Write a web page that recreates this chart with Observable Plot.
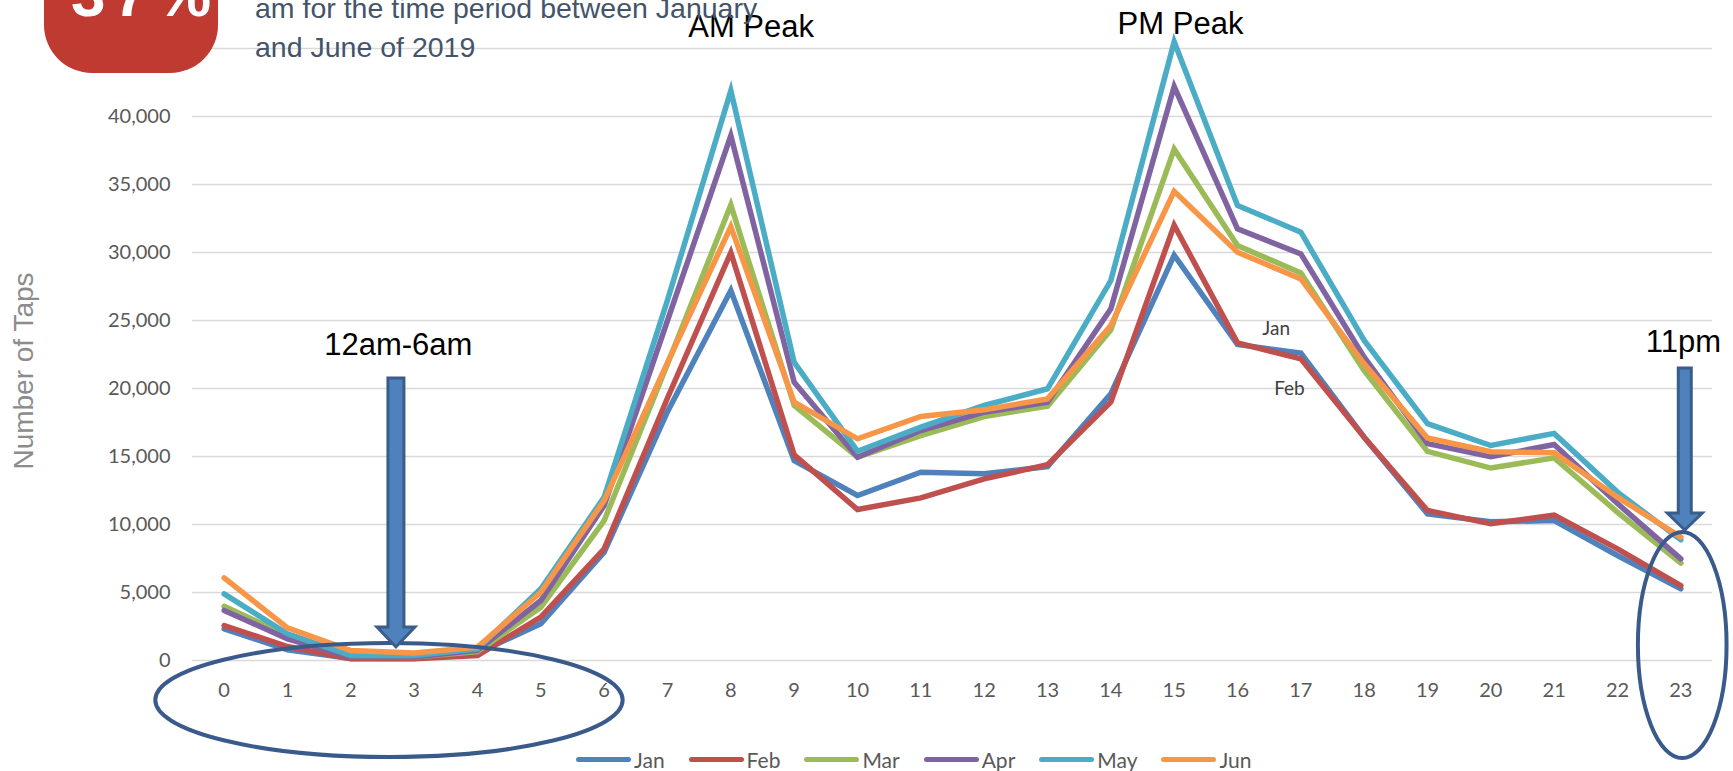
<!DOCTYPE html>
<html>
<head>
<meta charset="utf-8">
<script src="https://cdn.jsdelivr.net/npm/d3@7"></script>
<script src="https://cdn.jsdelivr.net/npm/@observablehq/plot@0.6"></script>
<style>
  html, body { margin: 0; padding: 0; background: #fff; }
  #wrap { position: relative; width: 1733px; height: 771px; overflow: hidden; font-family: "Liberation Sans", Arial, sans-serif; }
  #chart { position: absolute; left: 0; top: 0; }
  #badge { position: absolute; left: 44px; top: -60px; width: 174px; height: 133px; background: #bf3a30; border-radius: 48px; }
  #badgeText { position: absolute; left: 71px; top: -36px; font: bold 62px/62px "Liberation Sans", Arial, sans-serif; color: #fff; letter-spacing: 8px; white-space: nowrap; }
  #subtitle { position: absolute; left: 255px; top: -11px; font: 28.5px/39px "Liberation Sans", Arial, sans-serif; color: #44546a; white-space: nowrap; }
  #ytitle { position: absolute; left: 24px; top: 371px; transform: translate(-50%, -50%) rotate(-90deg); font: 28px "Liberation Sans", Arial, sans-serif; color: #8c8c8c; white-space: nowrap; }
  #legend { position: absolute; left: 576px; top: 744px; height: 31px; display: flex; align-items: center; gap: 24px; font: 21px Lato, sans-serif; color: #595959; }
  #legend .item { display: flex; align-items: center; gap: 3px; }
  #legend .sw { width: 55px; height: 5px; border-radius: 3px; }
</style>
</head>
<body>
<div id="wrap">
  <div id="chart"></div>
  <div id="badge"></div>
  <div id="badgeText">37%</div>
  <div id="subtitle">am for the time period between January<br>and June of 2019</div>
  <div id="ytitle">Number of Taps</div>
  <div id="legend"></div>
</div>
<script>
// ---- data ----
const hours = [0,1,2,3,4,5,6,7,8,9,10,11,12,13,14,15,16,17,18,19,20,21,22,23];
const months = ["Jan","Feb","Mar","Apr","May","Jun"];
const colors = ["#4f81bd","#c0504d","#9bbb59","#8064a2","#4bacc6","#f79646"];

const jan = [2330, 790, 150, 150, 560, 2700, 7960, 18300, 27200, 14700, 12130, 13850, 13730, 14260, 19610, 29800, 23240, 22600, 16420, 10780, 10200, 10290, 7720, 5270];
const feb = [2570, 1030, 130, 120, 370, 3190, 8210, 19300, 30000, 15120, 11100, 11960, 13360, 14390, 19000, 32000, 23360, 22180, 16420, 11030, 10050, 10700, 8210, 5510];
const mar = [3990, 1840, 300, 250, 660, 3920, 10290, 21800, 33500, 18750, 14950, 16540, 17940, 18700, 24310, 37600, 30510, 28500, 21320, 15380, 14150, 14900, 10900, 7160];
const apr = [3680, 1590, 250, 250, 740, 4410, 11400, 25000, 38600, 20460, 14950, 16910, 18260, 18990, 25860, 42200, 31740, 29900, 22300, 15950, 14980, 15880, 11540, 7470];
const may = [4900, 1960, 370, 370, 860, 5270, 12010, 26500, 41900, 21930, 15390, 17160, 18750, 19980, 27940, 45500, 33460, 31500, 23530, 17420, 15810, 16700, 12380, 8870];
const jun = [6080, 2400, 735, 560, 980, 5020, 11760, 21900, 31900, 18990, 16300, 17940, 18430, 19240, 24630, 34500, 30020, 28060, 21810, 16360, 15350, 15280, 12010, 9070];

const yTicks = [0, 5000, 10000, 15000, 20000, 25000, 30000, 35000, 40000];
const yGrid = [0, 5000, 10000, 15000, 20000, 25000, 30000, 35000, 40000, 45000];

// annotations (data coordinates: x = hour, y = taps)
const notes = [
  {text: "AM Peak", x: 8.32, y: 45810},
  {text: "PM Peak", x: 15.10, y: 46070},
  {text: "12am-6am", x: 2.75, y: 22430},
  {text: "11pm", x: 23.04, y: 22650}
];
const seriesNotes = [
  {text: "Jan", x: 16.61, y: 23900},
  {text: "Feb", x: 16.82, y: 19490}
];
const ellipses = [
  {cx: 2.61, cy: -2940, rx: 3.69, ry: 4190},
  {cx: 23.03, cy: 1100, rx: 0.70, ry: 8310}
];
const arrows = [
  {x: 2.72, top: 20740, neck: 2430, tip: 960, shaft: 16, head: 38},
  {x: 23.07, top: 21470, neck: 10810, tip: 9560, shaft: 13, head: 35}
];

// ---- build ----
const series = [jan, feb, mar, apr, may, jun];
const rows = months.flatMap((m, i) => hours.map((h, j) => ({month: m, hour: h, taps: series[i][j]})));

function shapes(index, scales) {
  const x = scales.x, y = scales.y;
  const g = d3.create("svg:g");
  for (const e of ellipses) {
    g.append("ellipse")
      .attr("cx", x(e.cx)).attr("cy", y(e.cy))
      .attr("rx", Math.abs(x(e.cx + e.rx) - x(e.cx)))
      .attr("ry", Math.abs(y(e.cy - e.ry) - y(e.cy)))
      .attr("fill", "none").attr("stroke", "#3b5a8c").attr("stroke-width", 4);
  }
  for (const a of arrows) {
    const cx = x(a.x), yt = y(a.top), yn = y(a.neck), yp = y(a.tip), s = a.shaft / 2, h = a.head / 2;
    g.append("path")
      .attr("d", `M${cx - s},${yt}H${cx + s}V${yn}H${cx + h}L${cx},${yp}L${cx - h},${yn}H${cx - s}Z`)
      .attr("fill", "#4f81bd").attr("stroke", "#3a5d8c").attr("stroke-width", 3);
  }
  return g.node();
}

const chart = Plot.plot({
  width: 1733,
  height: 740,
  marginTop: 48,
  marginBottom: 80,
  marginLeft: 192,
  marginRight: 21,
  style: {fontFamily: "Lato, sans-serif", overflow: "visible", background: "transparent"},
  x: {type: "linear", domain: [-0.5, 23.5]},
  y: {domain: [0, 45000]},
  color: {domain: months, range: colors},
  marks: [
    Plot.gridY(yGrid, {stroke: "#d9d9d9", strokeOpacity: 1, strokeWidth: 1.5}),
    Plot.axisY(yTicks, {tickFormat: d3.format(","), tickSize: 0, tickPadding: 22, fontSize: 20, fill: "#595959", label: null}),
    Plot.axisX(hours, {tickFormat: d => String(d), tickSize: 0, tickPadding: 22, fontSize: 20, fill: "#595959", label: null}),
    Plot.line(rows, {x: "hour", y: "taps", z: "month", stroke: "month", strokeWidth: 5.5, strokeLinejoin: "miter", strokeMiterlimit: 10}),
    Plot.text(seriesNotes, {x: "x", y: "y", text: "text", fontSize: 19, fontFamily: "Lato, sans-serif", fill: "#404040", lineAnchor: "bottom"}),
    shapes,
    Plot.text(notes, {x: "x", y: "y", text: "text", fontSize: 31, fontFamily: "Liberation Sans, Arial, sans-serif", fill: "#000", lineAnchor: "bottom"})
  ]
});
document.getElementById("chart").appendChild(chart);

// legend
const legend = d3.select("#legend");
months.forEach((m, i) => {
  const it = legend.append("div").attr("class", "item");
  it.append("div").attr("class", "sw").style("background", colors[i]);
  it.append("span").text(m);
});
</script>
</body>
</html>
